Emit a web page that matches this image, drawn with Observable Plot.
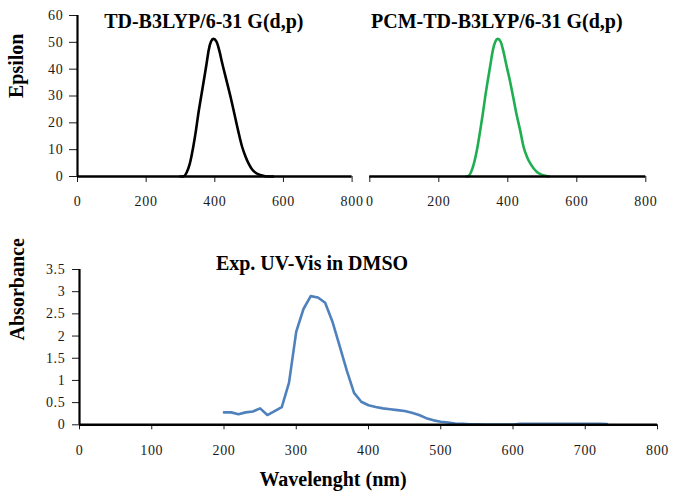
<!DOCTYPE html>
<html>
<head>
<meta charset="utf-8">
<script src="https://cdn.jsdelivr.net/npm/d3@7"></script>
<script src="https://cdn.jsdelivr.net/npm/@observablehq/plot@0.6"></script>
<style>
  html, body { margin: 0; padding: 0; background: #fff; }
  #chart { position: relative; width: 675px; height: 497px; overflow: hidden; background: #fff; }
  #chart svg { position: absolute; font-family: 'Liberation Serif', 'Times New Roman', serif !important; }
  #chart svg text { font-family: 'Liberation Serif', 'Times New Roman', serif !important; }
  #chart svg g[aria-label$="tick label"] text { letter-spacing: 0.7px; font-size: 14px; fill: #1a1a1a; }
</style>
</head>
<body>
<div id="chart"></div>
<script>
// ---- Data ----
const tdWavelength = [300, 310, 318, 327, 337, 345, 352, 360, 368, 376, 382, 389, 396, 405, 413, 422, 434, 446, 457, 468, 480, 490, 499, 510, 521, 535, 557, 570];
const tdEpsilon    = [0,   0.1, 1.5, 4.7, 10.9, 17.1, 23.4, 29.6, 35.8, 42, 47, 50.3, 51.3, 50.3, 47, 42, 35.8, 29.6, 23.4, 17.1, 10.9, 7.3, 4.7, 2.4, 1.2, 0.5, 0, 0];

const pcmWavelength = [280, 285, 293, 301.5, 312, 320, 327.6, 334.4, 342, 350, 356.6, 364, 371, 379, 386.6, 395, 406, 415.6, 425, 436, 446, 456, 466, 485, 500, 519];
const pcmEpsilon    = [0,   0.1, 1.5, 4.7,  10.9, 17.1, 23.4, 29.6, 35.8, 42, 47,   50.3, 51.3, 50.3, 47,  42,  35.8, 29.6, 23.4, 17.1, 10.9, 7.2, 4.7, 1.6, 0.6, 0];

const expWavelength = [200, 210, 220, 230, 240, 250, 260, 270, 280, 290, 300, 310, 320, 330, 340, 350, 360, 370, 380, 390, 400, 410, 420, 430, 440, 450, 460, 470, 480, 490, 500, 510, 520, 530, 540, 550, 560, 570, 580, 590, 600, 610, 620, 630, 640, 650, 660, 670, 680, 690, 700, 710, 720, 730];
const expAbsorbance = [0.28, 0.28, 0.24, 0.28, 0.30, 0.37, 0.22, 0.31, 0.40, 0.95, 2.10, 2.61, 2.90, 2.87, 2.75, 2.33, 1.78, 1.22, 0.72, 0.52, 0.44, 0.40, 0.37, 0.35, 0.33, 0.31, 0.27, 0.22, 0.15, 0.10, 0.07, 0.05, 0.03, 0.02, 0.01, 0.01, 0.005, 0.005, 0.005, 0.005, 0.005, 0.02, 0.02, 0.02, 0.025, 0.025, 0.025, 0.025, 0.025, 0.025, 0.025, 0.02, 0.02, 0.015];

const topXTicks = [0, 200, 400, 600, 800];
const topYTicks = [0, 10, 20, 30, 40, 50, 60];
const botXTicks = [0, 100, 200, 300, 400, 500, 600, 700, 800];
const botYTicks = [0, 0.5, 1, 1.5, 2, 2.5, 3, 3.5];

const titleTD  = "TD-B3LYP/6-31 G(d,p)";
const titlePCM = "PCM-TD-B3LYP/6-31 G(d,p)";
const titleExp = "Exp. UV-Vis in DMSO";
const yLabelTop = "Epsilon";
const yLabelBot = "Absorbance";
const xLabelBot = "Wavelenght (nm)";

// ---- helpers ----
const FONT = "'Liberation Serif', 'Times New Roman', serif";
const baseStyle = (left, top) => ({
  background: "transparent",
  fontFamily: FONT,
  fontSize: "14px",
  color: "#1a1a1a",
  position: "absolute",
  left: left + "px",
  top: top + "px",
  overflow: "visible",
  maxWidth: "none"
});
const fmt = d => String(d);
const rows = (xs, ys) => xs.map((x, i) => ({x, y: ys[i]}));

const chart = document.getElementById("chart");

// ---- Top-left: TD-B3LYP ----
const p1 = Plot.plot({
  width: 360, height: 215,
  marginLeft: 77, marginRight: 8.4, marginTop: 15, marginBottom: 39,
  x: {domain: [0, 800]},
  y: {domain: [0, 60]},
  style: baseStyle(0, 0),
  marks: [
    Plot.axisX({ticks: topXTicks, tickSize: 6, tickPadding: 14, tickFormat: fmt, label: null}),
    Plot.axisY({ticks: topYTicks, tickSize: 8, tickPadding: 6, tickFormat: fmt, label: null}),
    Plot.line(rows(tdWavelength, tdEpsilon), {x: "x", y: "y", stroke: "#000", strokeWidth: 2.6, curve: "monotone-x"}),
    Plot.ruleY([0], {stroke: "#000", strokeWidth: 2.5}),
    Plot.ruleX([0], {stroke: "#000", strokeWidth: 2.2}),
    Plot.text([titleTD], {text: d => d, frameAnchor: "top", dx: -11, dy: 12, lineAnchor: "bottom", fontWeight: "bold", fontSize: 20, fill: "#000"}),
    Plot.text([yLabelTop], {text: d => d, frameAnchor: "left", rotate: -90, dx: -55, dy: 2, lineAnchor: "bottom", fontWeight: "bold", fontSize: 20, fill: "#000"})
  ]
});
chart.appendChild(p1);

// ---- Top-right: PCM-TD-B3LYP ----
const p2 = Plot.plot({
  width: 335, height: 215,
  marginLeft: 29.3, marginRight: 29.7, marginTop: 15, marginBottom: 39,
  x: {domain: [0, 800]},
  y: {domain: [0, 60], axis: null},
  style: baseStyle(340, 0),
  marks: [
    Plot.axisX({ticks: topXTicks, tickSize: 6, tickPadding: 14, tickFormat: fmt, label: null}),
    Plot.line(rows(pcmWavelength, pcmEpsilon), {x: "x", y: "y", stroke: "#1fae50", strokeWidth: 2.6, curve: "monotone-x"}),
    Plot.ruleY([0], {stroke: "#000", strokeWidth: 2.5}),
    Plot.text([titlePCM], {text: d => d, frameAnchor: "top", dx: -11, dy: 12, lineAnchor: "bottom", fontWeight: "bold", fontSize: 20, fill: "#000"})
  ]
});
chart.appendChild(p2);

// ---- Bottom: Experimental ----
const p3 = Plot.plot({
  width: 675, height: 267,
  marginLeft: 79, marginRight: 18, marginTop: 39, marginBottom: 72.7,
  x: {domain: [0, 800]},
  y: {domain: [0, 3.5]},
  style: baseStyle(0, 230),
  marks: [
    Plot.axisX({ticks: botXTicks, tickSize: 5, tickPadding: 15, tickFormat: fmt, label: null}),
    Plot.axisY({ticks: botYTicks, tickSize: 7, tickPadding: 7, tickFormat: fmt, label: null}),
    Plot.line(rows(expWavelength, expAbsorbance), {x: "x", y: "y", stroke: "#4f81bd", strokeWidth: 2.6}),
    Plot.ruleY([0], {stroke: "#000", strokeWidth: 2.5}),
    Plot.ruleX([0], {stroke: "#000", strokeWidth: 2.2}),
    Plot.text([titleExp], {text: d => d, frameAnchor: "top", dx: -56.5, dy: 0, lineAnchor: "bottom", fontWeight: "bold", fontSize: 20, fill: "#000"}),
    Plot.text([yLabelBot], {text: d => d, frameAnchor: "left", rotate: -90, dx: -56, dy: -6.7, lineAnchor: "bottom", fontWeight: "bold", fontSize: 20, fill: "#000"}),
    Plot.text([xLabelBot], {text: d => d, frameAnchor: "bottom", dx: -35.5, dy: 60.7, lineAnchor: "bottom", fontWeight: "bold", fontSize: 20, fill: "#000"})
  ]
});
chart.appendChild(p3);
</script>
</body>
</html>
